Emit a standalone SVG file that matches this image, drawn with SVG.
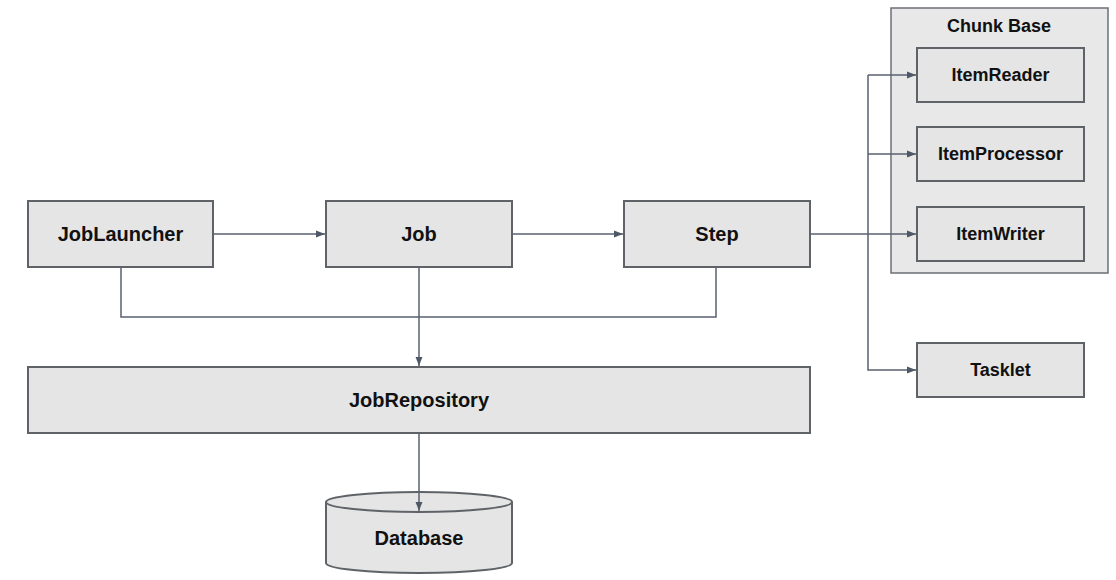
<svg xmlns="http://www.w3.org/2000/svg" width="1116" height="580" viewBox="0 0 1116 580">
<style>
.box{fill:#e5e5e5;stroke:#5f6368;stroke-width:2}
.cont{fill:#e8e8e8;stroke:#6b6f75;stroke-width:1.5}
.lbl{font-family:"Liberation Sans",Arial,sans-serif;font-weight:bold;font-size:20px;fill:#111;text-anchor:middle}
.sm{font-size:18px}
.ln{fill:none;stroke:#5a6270;stroke-width:1.5}
</style>
<defs>
<marker id="ah" viewBox="0 0 10 10" refX="10" refY="5" markerWidth="9" markerHeight="9" markerUnits="userSpaceOnUse" orient="auto">
<path d="M0,1.2 L10,5 L0,8.8 Z" fill="#4f5866"/>
</marker>
</defs>
<rect width="1116" height="580" fill="#fff"/>
<g id="chunkbase">
<rect class="cont" x="891" y="8" width="217" height="265"/>
<text class="lbl sm" x="999" y="32">Chunk Base</text>
</g>
<g id="joblauncher">
<rect class="box" x="28" y="201" width="185" height="66"/>
<text class="lbl" x="120.5" y="241">JobLauncher</text>
</g>
<g id="job">
<rect class="box" x="326" y="201" width="186" height="66"/>
<text class="lbl" x="419" y="241">Job</text>
</g>
<g id="step">
<rect class="box" x="624" y="201" width="186" height="66"/>
<text class="lbl" x="717" y="241">Step</text>
</g>
<g id="jobrepository">
<rect class="box" x="28" y="367" width="782" height="66"/>
<text class="lbl" x="419" y="407">JobRepository</text>
</g>
<g id="database">
<path class="box" d="M326,502 V563 A93,10 0 0 0 512,563 V502"/>
<ellipse class="box" cx="419" cy="502" rx="93" ry="10"/>
<text class="lbl" x="419" y="545">Database</text>
</g>
<g id="itemreader">
<rect class="box" x="917" y="48" width="167" height="54"/>
<text class="lbl sm" x="1000.5" y="81">ItemReader</text>
</g>
<g id="itemprocessor">
<rect class="box" x="917" y="127" width="167" height="54"/>
<text class="lbl sm" x="1000.5" y="160">ItemProcessor</text>
</g>
<g id="itemwriter">
<rect class="box" x="917" y="207" width="167" height="54"/>
<text class="lbl sm" x="1000.5" y="240">ItemWriter</text>
</g>
<g id="tasklet">
<rect class="box" x="917" y="343" width="167" height="54"/>
<text class="lbl sm" x="1000.5" y="376">Tasklet</text>
</g>
<g id="connectors">
<path class="ln" d="M213,234 H325" marker-end="url(#ah)"/>
<path class="ln" d="M512,234 H623" marker-end="url(#ah)"/>
<path class="ln" d="M121,268 V317 H716 V268"/>
<path class="ln" d="M419,268 V366" marker-end="url(#ah)"/>
<path class="ln" d="M419,434 V511" marker-end="url(#ah)"/>
<path class="ln" d="M811,234 H916" marker-end="url(#ah)"/>
<path class="ln" d="M868,75 V370 H916" marker-end="url(#ah)"/>
<path class="ln" d="M868,75 H916" marker-end="url(#ah)"/>
<path class="ln" d="M868,154 H916" marker-end="url(#ah)"/>
</g>
</svg>
